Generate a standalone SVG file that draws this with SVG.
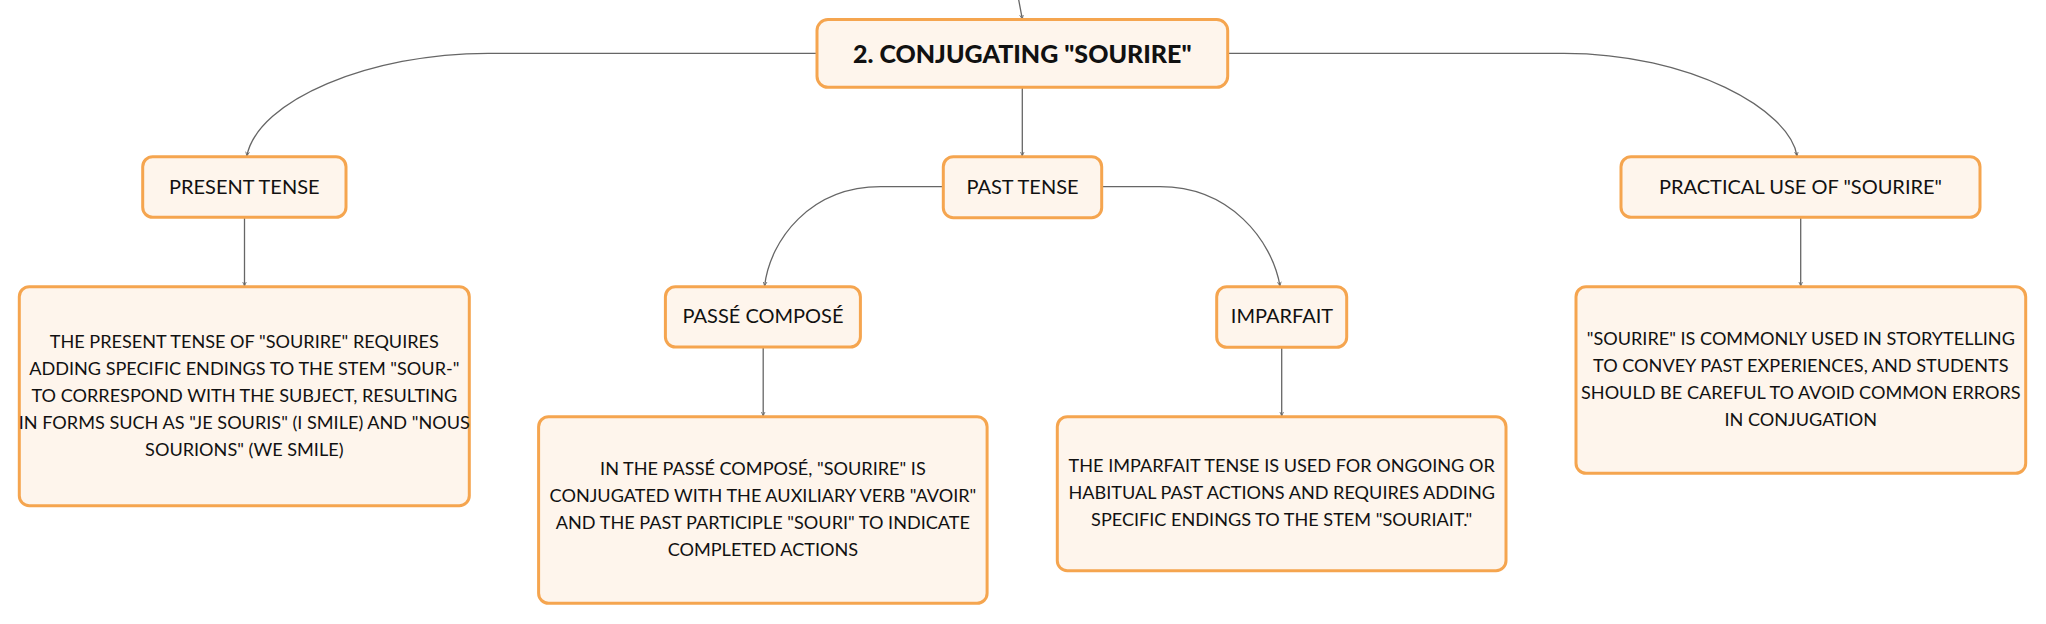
<svg xmlns="http://www.w3.org/2000/svg" width="2046" height="624" viewBox="0 0 2046 624">
<defs>
<marker id="arr" viewBox="0 0 6 6" refX="5" refY="3" markerWidth="5" markerHeight="5" markerUnits="userSpaceOnUse" orient="auto">
<path d="M0,0.8 L5,3 L0,5.2" fill="none" stroke="#666" stroke-width="1"/>
</marker>
</defs>
<style>
.box{fill:#FEF5EC;stroke:#F5A54F;stroke-width:3}
.t{font-family:Lato,"Noto Sans","DejaVu Sans",sans-serif;fill:#111;text-anchor:middle}
.root{font-size:25px;font-weight:900}
.lbl{font-size:20px}
.txt{font-size:18.1px}
.c{fill:none;stroke:#666;stroke-width:1.3;marker-end:url(#arr)}
</style>
<rect width="2046" height="624" fill="#fff"/>
<g id="connectors">
<path class="c" d="M1018.7,0 L1022.3,19"/>
<path class="c" d="M817,53.3 L488,53.3 C370,53.3 258,100 246.8,156"/>
<path class="c" d="M1228,53.3 L1564,53.3 C1690,53.3 1790,110 1797,156"/>
<path class="c" d="M1022.3,87.3 L1022.3,156"/>
<path class="c" d="M943,186.7 L880.7,186.7 C810,186.7 770,240 764.6,286"/>
<path class="c" d="M1101.7,186.7 L1160,186.7 C1230,186.7 1272,240 1280,286"/>
<path class="c" d="M244.5,217.3 L244.5,286"/>
<path class="c" d="M763.2,347 L763.2,416"/>
<path class="c" d="M1281.7,347.3 L1281.7,416"/>
<path class="c" d="M1800.7,217.3 L1800.7,286"/>
</g>
<g id="root">
<rect class="box" x="817" y="19.5" width="410.7" height="67.8" rx="11"/>
<text class="t root" x="1022.3" y="62.5">2. CONJUGATING "SOURIRE"</text>
</g>
<g id="present">
<rect class="box" x="142.7" y="156.7" width="203.3" height="60.6" rx="10"/>
<text class="t lbl" x="244.3" y="194">PRESENT TENSE</text>
</g>
<g id="past">
<rect class="box" x="943.3" y="156.7" width="158.4" height="61" rx="10"/>
<text class="t lbl" x="1022.5" y="194.3">PAST TENSE</text>
</g>
<g id="practical">
<rect class="box" x="1621" y="156.7" width="359" height="60.6" rx="10"/>
<text class="t lbl" x="1800.5" y="194">PRACTICAL USE OF "SOURIRE"</text>
</g>
<g id="passe">
<rect class="box" x="665.4" y="286.7" width="195" height="60.3" rx="10"/>
<text class="t lbl" x="763" y="323.3">PASSÉ COMPOSÉ</text>
</g>
<g id="imparfait">
<rect class="box" x="1216.7" y="286.7" width="130" height="60.6" rx="10"/>
<text class="t lbl" x="1282" y="323.3">IMPARFAIT</text>
</g>
<g id="present-detail">
<rect class="box" x="19.3" y="286.7" width="450" height="219" rx="10"/>
<text class="t txt" x="244.3" y="348.3">THE PRESENT TENSE OF "SOURIRE" REQUIRES</text>
<text class="t txt" x="244.3" y="375.3">ADDING SPECIFIC ENDINGS TO THE STEM "SOUR-"</text>
<text class="t txt" x="244.3" y="402.3">TO CORRESPOND WITH THE SUBJECT, RESULTING</text>
<text class="t txt" x="244.3" y="429.3">IN FORMS SUCH AS "JE SOURIS" (I SMILE) AND "NOUS</text>
<text class="t txt" x="244.3" y="456.3">SOURIONS" (WE SMILE)</text>
</g>
<g id="passe-detail">
<rect class="box" x="538.6" y="416.7" width="448.5" height="186.6" rx="10"/>
<text class="t txt" x="762.9" y="475">IN THE PASSÉ COMPOSÉ, "SOURIRE" IS</text>
<text class="t txt" x="762.9" y="502">CONJUGATED WITH THE AUXILIARY VERB "AVOIR"</text>
<text class="t txt" x="762.9" y="529">AND THE PAST PARTICIPLE "SOURI" TO INDICATE</text>
<text class="t txt" x="762.9" y="556">COMPLETED ACTIONS</text>
</g>
<g id="imparfait-detail">
<rect class="box" x="1057.3" y="416.7" width="448.7" height="154" rx="10"/>
<text class="t txt" x="1281.7" y="472.3">THE IMPARFAIT TENSE IS USED FOR ONGOING OR</text>
<text class="t txt" x="1281.7" y="499.3">HABITUAL PAST ACTIONS AND REQUIRES ADDING</text>
<text class="t txt" x="1281.7" y="526.3">SPECIFIC ENDINGS TO THE STEM "SOURIAIT."</text>
</g>
<g id="practical-detail">
<rect class="box" x="1576" y="286.7" width="449.7" height="186.6" rx="10"/>
<text class="t txt" x="1800.8" y="345">"SOURIRE" IS COMMONLY USED IN STORYTELLING</text>
<text class="t txt" x="1800.8" y="372.3">TO CONVEY PAST EXPERIENCES, AND STUDENTS</text>
<text class="t txt" x="1800.8" y="399.3">SHOULD BE CAREFUL TO AVOID COMMON ERRORS</text>
<text class="t txt" x="1800.8" y="426.3">IN CONJUGATION</text>
</g>
</svg>
